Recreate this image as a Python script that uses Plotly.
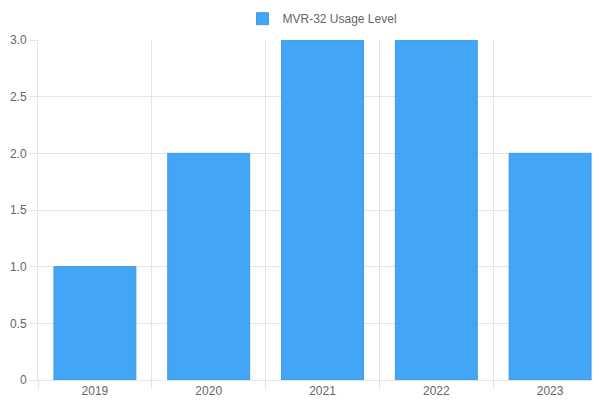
import plotly.graph_objects as go

years = ["2019", "2020", "2021", "2022", "2023"]
usage = [1, 2, 3, 3, 2]
series_name = "MVR-32 Usage Level"
y_ticks = [0, 0.5, 1, 1.5, 2, 2.5, 3]
y_labels = ["0", "0.5", "1.0", "1.5", "2.0", "2.5", "3.0"]

fig = go.Figure(go.Bar(
    x=years, y=usage, name=series_name,
    marker=dict(color="rgba(66,165,245,1)", line=dict(color="#3d9be8", width=1)),
    width=0.72, showlegend=True,
))
fig.update_layout(
    width=600, height=400,
    margin=dict(l=30, r=1, t=32, b=28, autoexpand=False),
    paper_bgcolor="white", plot_bgcolor="white",
    font=dict(family="Liberation Sans, Arial", size=12, color="#666"),
    legend=dict(orientation="h", x=0.5, xanchor="center", y=1.02, yanchor="bottom",
                font=dict(size=12, color="#666")),
    xaxis=dict(tickson="boundaries", showgrid=True, gridcolor="#e5e5e5",
               ticks="outside", ticklen=8, tickcolor="#e5e5e5", automargin=False,
               showline=True, linecolor="#e5e5e5"),
    yaxis=dict(range=[0, 3], tickvals=y_ticks, ticktext=y_labels, showgrid=True,
               gridcolor="#e5e5e5", zeroline=False, showline=True, automargin=False,
               linecolor="#e5e5e5", ticks="outside", ticklen=8, tickcolor="#e5e5e5"),
)
fig.write_html("out.html")
